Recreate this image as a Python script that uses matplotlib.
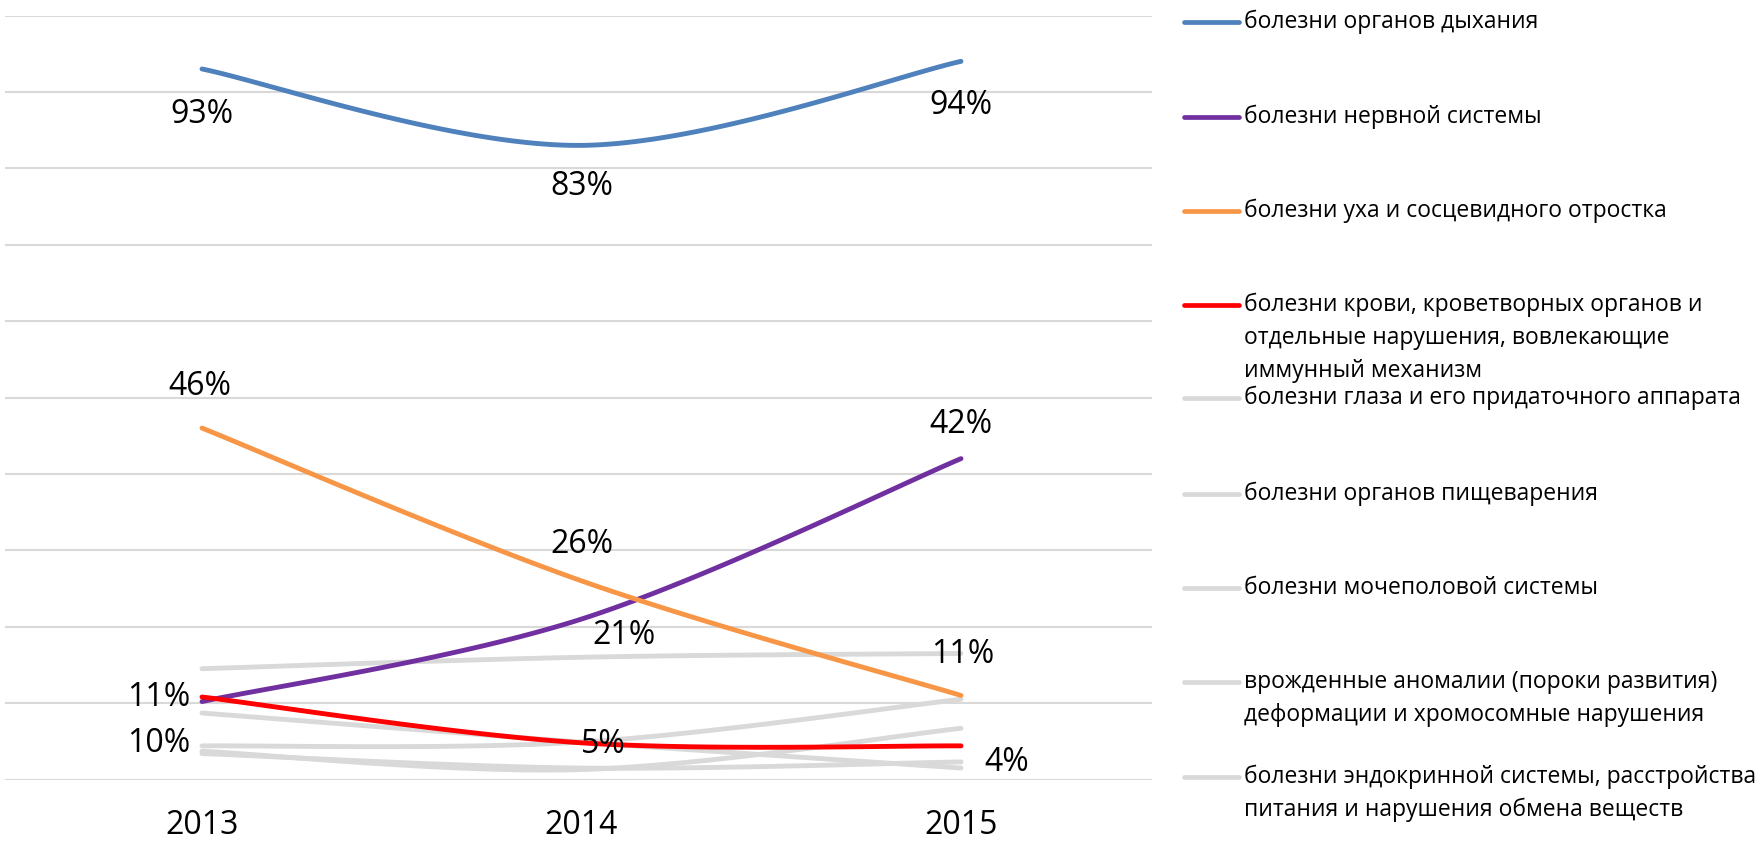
import numpy as np
import matplotlib
matplotlib.use('Agg')
import matplotlib.pyplot as plt
from matplotlib.lines import Line2D

plt.rcParams['font.family'] = ['Open Sans', 'DejaVu Sans']

# ---------------- data ----------------
years = ['2013', '2014', '2015']

names = [
    'болезни органов дыхания',
    'болезни нервной системы',
    'болезни уха и сосцевидного отростка',
    'болезни крови, кроветворных органов и\nотдельные нарушения, вовлекающие\nиммунный механизм',
    'болезни глаза и его придаточного аппарата',
    'болезни органов пищеварения',
    'болезни мочеполовой системы',
    'врожденные аномалии (пороки развития)\nдеформации и хромосомные нарушения',
    'болезни эндокринной системы, расстройства\nпитания и нарушения обмена веществ',
]

respiratory = [0.93, 0.83, 0.94]
nervous = [0.102, 0.21, 0.42]
ear = [0.46, 0.26, 0.11]
blood = [0.108, 0.048, 0.044]
eye = [0.145, 0.16, 0.165]
digestive = [0.087, 0.049, 0.015]
urogenital = [0.044, 0.049, 0.105]
congenital = [0.037, 0.013, 0.067]
endocrine = [0.034, 0.015, 0.023]

values = [respiratory, nervous, ear, blood, eye, digestive, urogenital, congenital, endocrine]
colors = ['#4F81BD', '#7030A0', '#F79646', '#FF0000',
          '#D9D9D9', '#D9D9D9', '#D9D9D9', '#D9D9D9', '#D9D9D9']

# label offsets in pixels (dx right, dy down) for labelled series
label_offsets = {
    0: [(0, 46), (0, 41), (0, 44)],
    1: [(-43, 42), (43, 16), (0, -34)],
    2: [(-2, -42), (0, -36), (2, -41)],
    3: [(-43, 1), (22, 2), (46, 17)],
}


def smooth(xs, ys, n=60):
    P = np.column_stack([xs, ys]).astype(float)
    out = []
    for i in range(len(P) - 1):
        p0 = P[max(i - 1, 0)]
        p1 = P[i]
        p2 = P[i + 1]
        p3 = P[min(i + 2, len(P) - 1)]
        c1 = p1 + (p2 - p0) / 6.0
        c2 = p2 - (p3 - p1) / 6.0
        t = np.linspace(0, 1, n)[:, None]
        seg = ((1 - t) ** 3) * p1 + 3 * ((1 - t) ** 2) * t * c1 + 3 * (1 - t) * t ** 2 * c2 + t ** 3 * p2
        out.append(seg if i == 0 else seg[1:])
    return np.vstack(out)


W, H = 1763, 842
fig = plt.figure(figsize=(W / 100, H / 100), dpi=100)
left_px, right_px, top_px, bot_px = 5, 1152, 15.5, 779.5
ax = fig.add_axes([left_px / W, 1 - bot_px / H, (right_px - left_px) / W, (bot_px - top_px) / H])

x = np.arange(len(years))
ax.set_xlim(-(202 - 5) / 379.5, 2 + (1152 - 961) / 379.5)
ax.set_ylim(0, 1.0)
ax.set_yticks(np.arange(0, 1.01, 0.1))
ax.yaxis.grid(True, color='#D9D9D9', lw=1.5)
ax.set_axisbelow(True)
ax.tick_params(axis='y', length=0, labelleft=False)
ax.set_xticks(x, years)
ax.tick_params(axis='x', length=0, pad=21, labelsize=23)
for s in ax.spines.values():
    s.set_visible(False)

# draw grey series first, coloured on top
order = [4, 5, 6, 7, 8, 0, 1, 2, 3]
for z, i in enumerate(order):
    pts = smooth(x, values[i])
    ax.plot(pts[:, 0], pts[:, 1], color=colors[i], lw=3.5,
            solid_capstyle='round', zorder=3 + z)

for i, offs in label_offsets.items():
    for j, v in enumerate(values[i]):
        dx, dy = offs[j]
        ax.annotate(f'{round(v * 100):.0f}%', (x[j], v), xytext=(dx * 0.72, -dy * 0.72),
                    textcoords='offset points', ha='center', va='center',
                    fontsize=23, color='black', zorder=20)

# legend
rows = [22, 117, 211, 305, 398, 494, 588, 682, 777]
for i, name in enumerate(names):
    y = rows[i]
    fig.add_artist(Line2D([1184 / W, 1239 / W], [1 - y / H, 1 - y / H], color=colors[i],
                          lw=3.4, solid_capstyle='round'))
    for k, line in enumerate(name.split('\n')):
        fig.text(1244 / W, 1 - (y + 33 * k) / H, line, va='center', ha='left',
                 fontsize=16.5, color='black')

fig.savefig('out.png', dpi=100)
